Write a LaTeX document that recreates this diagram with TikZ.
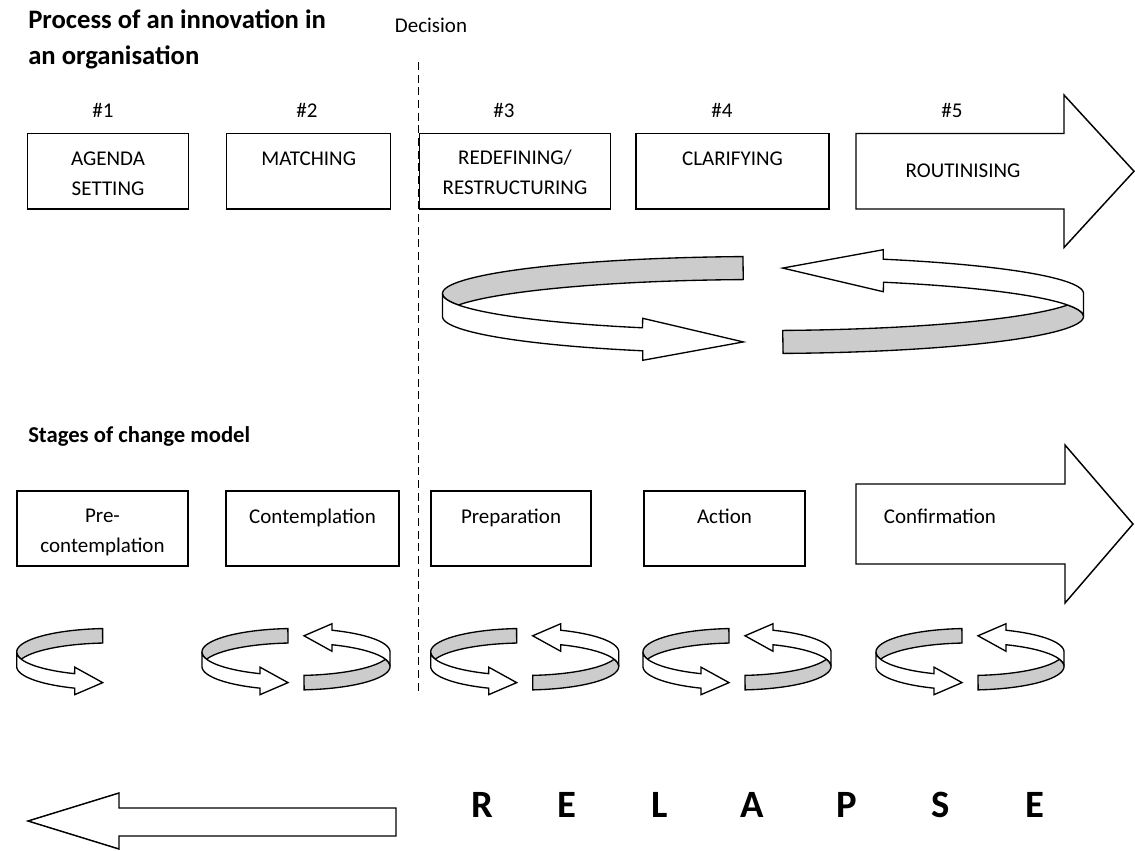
\documentclass[tikz,border=0pt]{standalone}
\usepackage{fontspec}
\setmainfont{Carlito}
\definecolor{ringgray}{RGB}{204,204,204}
\newcommand{\ringhalf}[8]{%
  \pgfmathsetmacro\RGcx{#1}\pgfmathsetmacro\RGcy{#2}%
  \pgfmathsetmacro\RGa{#3}\pgfmathsetmacro\RGb{#4}\pgfmathsetmacro\RGh{#5/2}%
  \pgfmathsetmacro\RGtone{180+acos(#6/#3)}%
  \pgfmathsetmacro\RGttip{180-acos(#6/#3)}%
  \pgfmathsetmacro\RGtb{180-acos(#7/#3)}%
  \pgfmathsetmacro\RGtm{180-asin(\RGh/\RGb)}%
  \pgfmathsetmacro\RGtmp{180+asin(\RGh/\RGb)}%
  \pgfmathsetmacro\RGe{#8}%
  \filldraw[ringback]
    plot[domain=0:1,samples=60,variable=\rgs]
      ({\RGcx+\RGa*cos(\RGtm+(\RGtone-\RGtm)*\rgs)},{\RGcy-\RGh+\RGb*sin(\RGtm+(\RGtone-\RGtm)*\rgs)})
    -- ({\RGcx+\RGa*cos(\RGtone)},{\RGcy+\RGh+\RGb*sin(\RGtone)})
    -- plot[domain=0:1,samples=60,variable=\rgs]
      ({\RGcx+\RGa*cos(\RGtone+(\RGtmp-\RGtone)*\rgs)},{\RGcy+\RGh+\RGb*sin(\RGtone+(\RGtmp-\RGtone)*\rgs)})
    -- cycle;
  \filldraw[ringfront]
    plot[domain=0:1,samples=60,variable=\rgs]
      ({\RGcx+\RGa*cos(180+(\RGtb-180)*\rgs)},{\RGcy-\RGh+\RGb*sin(180+(\RGtb-180)*\rgs)})
    -- ({\RGcx+\RGa*cos(\RGtb)},{\RGcy-\RGh+\RGb*sin(\RGtb)-\RGe})
    -- ({\RGcx+\RGa*cos(\RGttip)},{\RGcy+\RGb*sin(\RGttip)})
    -- ({\RGcx+\RGa*cos(\RGtb)},{\RGcy+\RGh+\RGb*sin(\RGtb)+\RGe})
    -- ({\RGcx+\RGa*cos(\RGtb)},{\RGcy+\RGh+\RGb*sin(\RGtb)})
    -- plot[domain=0:1,samples=60,variable=\rgs]
      ({\RGcx+\RGa*cos(\RGtb+(180-\RGtb)*\rgs)},{\RGcy+\RGh+\RGb*sin(\RGtb+(180-\RGtb)*\rgs)})
    -- cycle;
}
\newcommand{\smallpair}[1]{%
  \ringhalf{#1}{659.2}{94}{23.5}{14.5}{8}{36}{6.5}%
  \begin{scope}[rotate around={180:(#1,659.2)}]
    \ringhalf{#1}{659.2}{94}{23.5}{14.5}{8}{36}{6.5}%
  \end{scope}%
}
\begin{document}
\begin{tikzpicture}[x=0.75pt,y=-0.75pt,
  box/.style={draw=black,line width=1.1pt,fill=white,inner sep=0pt},
  blockarrow/.style={draw=black,line width=1.1pt,fill=white,line join=miter},
  ringback/.style={draw=black,line width=1pt,fill=ringgray},
  ringfront/.style={draw=black,line width=1pt,fill=white},
  txt/.style={font=\fontsize{15.75}{22.5}\selectfont,inner sep=0pt,align=center},
  ttl/.style={font=\fontsize{20}{27}\selectfont\bfseries,inner sep=0pt,anchor=base west},
  subttl/.style={font=\fontsize{17}{22}\selectfont\bfseries,inner sep=0pt,anchor=base west},
  big/.style={font=\fontsize{29}{34}\selectfont\bfseries,inner sep=0pt,anchor=base},
  divider/.style={line width=1pt,dash pattern=on 6pt off 3.5pt}]
\fill[white] (0,0) rectangle (1135,850);
\useasboundingbox (0,0) rectangle (1135,850);

% titles
\node[ttl] (t1) at (28,28) {Process of an innovation in};
\node[ttl] (t2) at (28,64) {an organisation};
\node[subttl] (t3) at (28,442) {Stages of change model};

% decision line
\node[txt,anchor=base] (dec) at (431,32) {Decision};
\coordinate (dtop) at (418.5,62);
\coordinate (dbot) at (418.5,693);
\draw[divider] (dtop) -- (dbot);

% step numbers
\node[txt,anchor=base] (n1) at (103,117) {\#1};
\node[txt,anchor=base] (n2) at (307,117) {\#2};
\node[txt,anchor=base] (n3) at (504,117) {\#3};
\node[txt,anchor=base] (n4) at (722,117) {\#4};
\node[txt,anchor=base] (n5) at (952,117) {\#5};

% top row boxes
\node[box,minimum width=160.6*0.75pt,minimum height=75.5*0.75pt] (b1) at (108,171.25) {};
\node[box,minimum width=164*0.75pt,minimum height=75.5*0.75pt] (b2) at (308.7,171.25) {};
\node[box,minimum width=191.3*0.75pt,minimum height=75.5*0.75pt] (b3) at (515,171.25) {};
\node[box,minimum width=193*0.75pt,minimum height=75.5*0.75pt] (b4) at (732.5,171.25) {};
\draw[blockarrow] (856,133.5) -- (1064,133.5) -- (1064,95) -- (1134,171.25) -- (1064,247.5) -- (1064,209) -- (856,209) -- cycle;
\node[txt,anchor=north] (b1t) at (108,151.5) {AGENDA\\SETTING};
\node[txt,anchor=north] (b2t) at (308.7,151.5) {MATCHING};
\node[txt,anchor=north] (b3t) at (515,149.5) {REDEFINING/\\RESTRUCTURING};
\node[txt,anchor=north] (b4t) at (732.5,151.5) {CLARIFYING};
\node[txt,anchor=base] (b5t) at (963,177.5) {ROUTINISING};

% big ring
\ringhalf{763}{305}{320.5}{37}{23}{19.7}{120.3}{9.5}
\begin{scope}[rotate around={180:(763,305)}]
  \ringhalf{763}{305}{320.5}{37}{23}{19.7}{120.3}{9.5}
\end{scope}

% bottom row boxes
\node[box,minimum width=171*0.75pt,minimum height=75*0.75pt] (c1) at (102.5,528.5) {};
\node[box,minimum width=173*0.75pt,minimum height=75*0.75pt] (c2) at (312.5,528.5) {};
\node[box,minimum width=160*0.75pt,minimum height=75*0.75pt] (c3) at (511,528.5) {};
\node[box,minimum width=161*0.75pt,minimum height=75*0.75pt] (c4) at (724.5,528.5) {};
\draw[blockarrow] (856,484) -- (1065,484) -- (1065,445) -- (1133,524) -- (1065,603) -- (1065,564) -- (856,564) -- cycle;
\node[txt,anchor=north] (c1t) at (102.5,509) {Pre-\\contemplation};
\node[txt,anchor=north] (c2t) at (312.5,509) {Contemplation};
\node[txt,anchor=north] (c3t) at (511,509) {Preparation};
\node[txt,anchor=north] (c4t) at (724.5,509) {Action};
\node[txt,anchor=base] (c5t) at (940,523) {Confirmation};

% small rings
\ringhalf{110.7}{659.2}{94}{23.5}{14.5}{8}{36}{6.5}
\smallpair{296}
\smallpair{524.7}
\smallpair{737}
\smallpair{970}

% relapse
\draw[blockarrow] (396,808) -- (119,808) -- (119,793) -- (28,821) -- (119,849) -- (119,836) -- (396,836) -- cycle;
\node[big] (r1) at (482,817) {R};
\node[big] (r2) at (567,817) {E};
\node[big] (r3) at (660,817) {L};
\node[big] (r4) at (752,817) {A};
\node[big] (r5) at (847,817) {P};
\node[big] (r6) at (941,817) {S};
\node[big] (r7) at (1035,817) {E};
\end{tikzpicture}
\end{document}
